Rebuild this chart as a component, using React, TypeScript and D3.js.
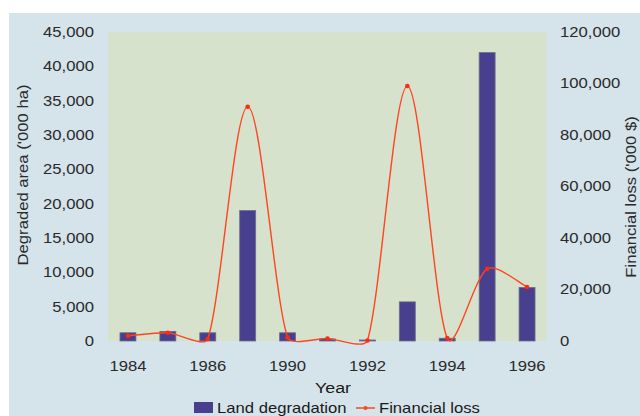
import React from "react";
import * as d3 from "d3";

const categories = ["1984", "1985", "1986", "1988", "1990", "1991", "1992", "1993", "1994", "1995", "1996"];
const landDegradation = [1200, 1400, 1200, 19000, 1200, 300, 150, 5700, 400, 42000, 7800];
const financialLoss = [2000, 3200, 800, 91000, 1400, 1000, 200, 99000, 1100, 28000, 21000];
const leftTicks = [0, 5000, 10000, 15000, 20000, 25000, 30000, 35000, 40000, 45000];
const rightTicks = [0, 20000, 40000, 60000, 80000, 100000, 120000];

const W = 640;
const H = 416;
const plot = { left: 108, right: 547, top: 32, bottom: 341 };
const font = "Liberation Sans, Arial, Helvetica, sans-serif";
const SX = 1.19;

// Excel-like smoothed line: Catmull-Rom tangents with control arms clamped to segment length
function smoothPath(pts: [number, number][]) {
  const p = d3.path();
  const n = pts.length;
  const tan = pts.map((_, i) => {
    const a = pts[Math.max(0, i - 1)];
    const b = pts[Math.min(n - 1, i + 1)];
    return [(b[0] - a[0]) / 6, (b[1] - a[1]) / 6];
  });
  const clamp = (t: number[], len: number) => {
    const l = Math.hypot(t[0], t[1]);
    const m = 0.24 * len;
    const s = l > m && l > 0 ? m / l : 1;
    return [t[0] * s, t[1] * s];
  };
  p.moveTo(pts[0][0], pts[0][1]);
  for (let i = 0; i < n - 1; i++) {
    const a = pts[i];
    const b = pts[i + 1];
    const len = Math.hypot(b[0] - a[0], b[1] - a[1]);
    const t1 = clamp(tan[i], len);
    const t2 = clamp(tan[i + 1], len);
    p.bezierCurveTo(a[0] + t1[0], a[1] + t1[1], b[0] - t2[0], b[1] - t2[1], b[0], b[1]);
  }
  return p.toString();
}

function T({ x, y, children, anchor = "start", size = 14, fill = "#2a2a2a", dy = "0", rot = 0 }: any) {
  return (
    <g transform={`translate(${x},${y}) rotate(${rot}) scale(${SX},1)`}>
      <text x={0} y={0} dy={dy} textAnchor={anchor} fontFamily={font} fontSize={size} fill={fill}>
        {children}
      </text>
    </g>
  );
}

export default function App() {
  const x = d3
    .scaleBand<string>()
    .domain(categories)
    .range([plot.left, plot.right])
    .paddingInner(0.6)
    .paddingOuter(0.3);
  const xc = (c: string) => (x(c) as number) + x.bandwidth() / 2;
  const yL = d3.scaleLinear().domain([0, 45000]).range([plot.bottom, plot.top]);
  const yR = d3.scaleLinear().domain([0, 120000]).range([plot.bottom, plot.top]);
  const fmt = d3.format(",");

  const pts: [number, number][] = financialLoss.map((v, i) => [xc(categories[i]), yR(v)]);

  const lineColor = "#ff4420";
  const barColor = "#48408f";

  return (
    <svg width={W} height={H} style={{ position: "absolute", left: 0, top: 0 }}>
      <rect x={0} y={0} width={W} height={H} fill="#ffffff" />
      <rect x={9} y={13} width={W - 9} height={H - 13} fill="#d5e3ea" />
      <rect
        x={plot.left}
        y={plot.top}
        width={plot.right - plot.left}
        height={plot.bottom - plot.top}
        fill="#d6e2cb"
      />
      {categories.map((c, i) => (
        <rect
          key={c}
          x={x(c)}
          y={yL(landDegradation[i])}
          width={x.bandwidth()}
          height={plot.bottom - yL(landDegradation[i])}
          fill={barColor}
          stroke="#6e6e86"
          strokeWidth={0.8}
        />
      ))}
      <path d={smoothPath(pts)} fill="none" stroke={lineColor} strokeWidth={1.4} />
      {pts.map((pt, i) => (
        <circle key={i} cx={pt[0]} cy={pt[1]} r={2.3} fill="#ff2a10" />
      ))}
      {leftTicks.map((t) => (
        <T key={t} x={94} y={yL(t)} dy="0.35em" anchor="end">
          {fmt(t)}
        </T>
      ))}
      {rightTicks.map((t) => (
        <T key={t} x={560} y={yR(t)} dy="0.35em" anchor="start">
          {fmt(t)}
        </T>
      ))}
      {categories.map((c, i) =>
        i % 2 === 0 ? (
          <T key={c} x={xc(c)} y={371} anchor="middle">
            {c}
          </T>
        ) : null
      )}
      <T x={28} y={175} rot={-90} anchor="middle">
        Degraded area ('000 ha)
      </T>
      <T x={636} y={197} rot={-90} anchor="middle">
        Financial loss  ('000 $)
      </T>
      <T x={333} y={393} anchor="middle" size={15} fill="#1a1a1a">
        Year
      </T>
      <rect x={194} y={402} width={19} height={11} fill={barColor} />
      <T x={217} y={413} fill="#1a1a1a">
        Land degradation
      </T>
      <line x1={356} x2={375} y1={408} y2={408} stroke={lineColor} strokeWidth={1.5} />
      <circle cx={365.5} cy={408} r={2} fill={lineColor} />
      <T x={379} y={413} fill="#1a1a1a">
        Financial loss
      </T>
    </svg>
  );
}
